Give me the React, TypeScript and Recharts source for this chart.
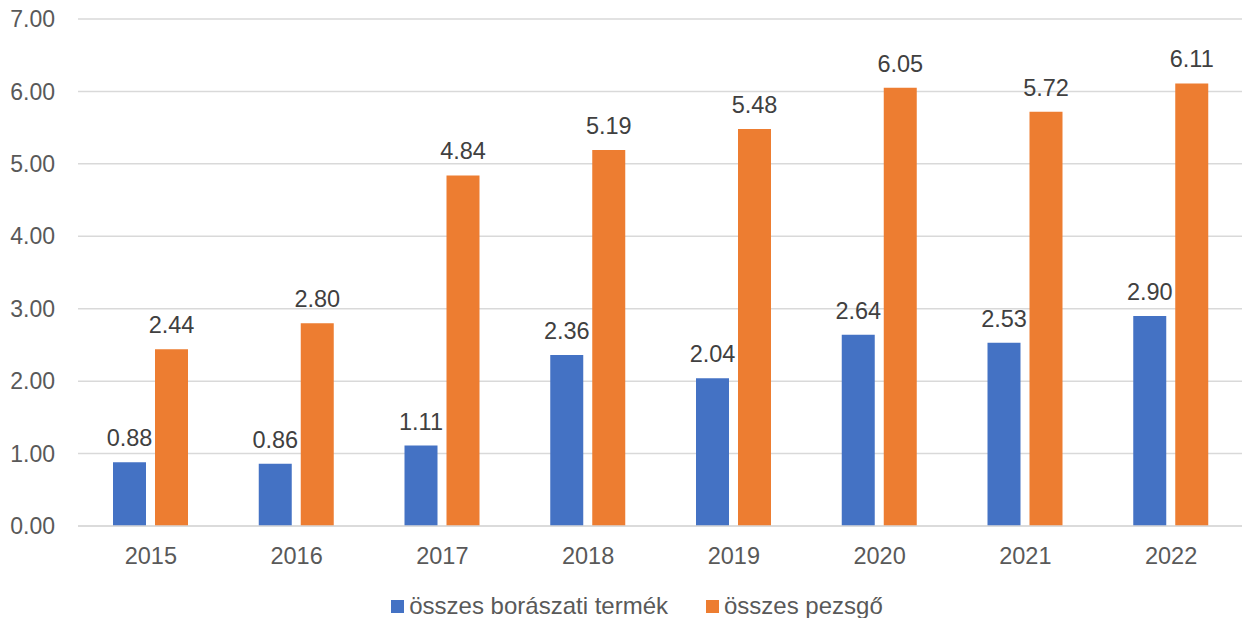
import { BarChart, Bar, XAxis, YAxis, CartesianGrid, LabelList } from "recharts";

const years = ["2015", "2016", "2017", "2018", "2019", "2020", "2021", "2022"];
const winery = [0.88, 0.86, 1.11, 2.36, 2.04, 2.64, 2.53, 2.9];
const sparkling = [2.44, 2.8, 4.84, 5.19, 5.48, 6.05, 5.72, 6.11];
const yTicks = [0, 1, 2, 3, 4, 5, 6, 7];
const seriesNames = ["összes borászati termék", "összes pezsgő"];
const seriesColors = ["#4472C4", "#ED7D31"];

const data = years.map((year, i) => ({
  year,
  winery: winery[i],
  sparkling: sparkling[i],
}));

const font = "'Liberation Sans', Arial, sans-serif";
const fmt = (v: number) => v.toFixed(2);

export default function App() {
  return (
    <div
      style={{
        position: "absolute",
        left: 0,
        top: 0,
        width: 1242,
        height: 618,
        overflow: "hidden",
        background: "#fff",
        fontFamily: font,
      }}
    >
      <BarChart
        width={1250}
        height={618}
        data={data}
        margin={{ top: 19, right: 6, left: 0, bottom: 0 }}
        barSize={33}
        barGap={9}
      >
        <CartesianGrid vertical={false} stroke="#d9d9d9" strokeWidth={1.5} />

        <XAxis
          dataKey="year"
          height={92}
          axisLine={{ stroke: "#d9d9d9", strokeWidth: 1.5 }}
          tickLine={false}
          tickSize={0}
          tickMargin={21}
          tick={{ fontSize: 23.5, fill: "#595959", fontFamily: font }}
        />

        <YAxis
          width={78}
          domain={[0, 7]}
          ticks={yTicks}
          tickFormatter={fmt}
          axisLine={false}
          tickLine={false}
          tickSize={0}
          tickMargin={23}
          tick={{ fontSize: 23, fill: "#595959", fontFamily: font }}
        />

        <Bar dataKey="winery" fill={seriesColors[0]} isAnimationActive={false}>
          <LabelList
            dataKey="winery"
            position="top"
            offset={16}
            formatter={(v: any) => fmt(Number(v))}
            style={{ fontSize: 23.5, fill: "#404040", fontFamily: font }}
          />
        </Bar>

        <Bar dataKey="sparkling" fill={seriesColors[1]} isAnimationActive={false}>
          <LabelList
            dataKey="sparkling"
            position="top"
            offset={16}
            formatter={(v: any) => fmt(Number(v))}
            style={{ fontSize: 23.5, fill: "#404040", fontFamily: font }}
          />
        </Bar>
      </BarChart>

      {/* Legend */}
      <div
        style={{
          position: "absolute",
          left: 16,
          top: 592,
          width: 1242,
          height: 28,
          display: "flex",
          justifyContent: "center",
          alignItems: "center",
          gap: 38,
        }}
      >
        {seriesNames.map((name, i) => (
          <div key={name} style={{ display: "flex", alignItems: "center" }}>
            <span
              style={{
                width: 13,
                height: 13,
                background: seriesColors[i],
                marginRight: 5,
                display: "inline-block",
              }}
            />
            <span style={{ fontSize: 24, color: "#595959" }}>{name}</span>
          </div>
        ))}
      </div>
    </div>
  );
}
